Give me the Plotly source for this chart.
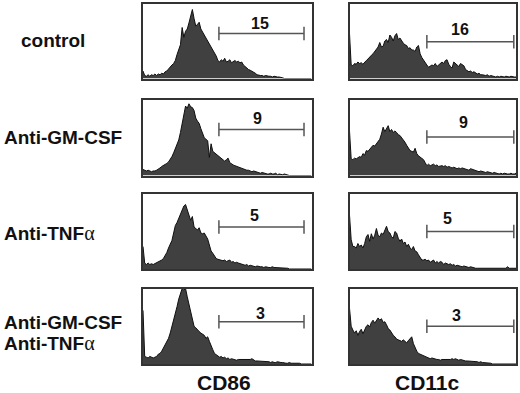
import plotly.graph_objects as go

# ---------------- data ----------------
conditions = ["control", "Anti-GM-CSF", "Anti-TNFα", "Anti-GM-CSF\nAnti-TNFα"]
markers = ["CD86", "CD11c"]

cd86_control = [10,4,3,5,3,5,4,6,4,6, 5,7,6,9,10,13,15,18,20,24,
                32,40,45,68,55,63,66,74,84,92, 80,70,72,75,66,62,60,55,50,46,
                42,38,34,30,24,22,25,23,27,22, 23,25,21,23,24,22,23,21,22,18,
                16,13,12,11,10,9,7,5,4,4, 4,3,4,3,3,3,2,3,2,2,
                2,2,1,0,0,0,0,0,0,0, 0,0,0,0,0,0,0,0,0,0]
cd86_anti_gmcsf = [8,7,6,7,6,5,6,6,7,8, 10,12,13,15,16,18,21,25,30,36,
                   41,47,57,68,82,92,89,95,91,90, 86,76,72,69,62,55,50,48,46,24,
                   42,32,30,28,26,25,23,21,19,21, 23,17,15,14,13,12,11,10,9,8,
                   8,7,7,6,5,6,5,4,4,3, 4,3,3,2,2,3,2,2,3,1,
                   2,1,1,2,1,1,0,0,0,0, 0,0,0,0,0,0,0,0,0,0]
cd86_anti_tnfa = [30,8,6,8,6,7,6,7,8,9, 11,12,14,18,22,28,33,38,48,58,
                  62,68,74,79,84,86,80,72,65,70, 56,54,52,55,48,47,48,44,40,32,
                  24,21,18,14,13,12,12,11,12,10, 11,12,9,10,8,9,8,7,7,6,
                  5,6,4,5,4,4,3,4,3,3, 3,2,3,2,2,2,3,2,2,2,
                  2,2,2,1,1,1,0,0,0,0, 0,0,0,0,0,0,0,0,0,0]
cd86_both = [71,10,9,8,10,9,8,9,10,13, 14,17,21,25,28,34,41,49,58,66,
             76,86,93,100,98,100,89,80,70,58, 50,48,45,43,41,40,38,34,36,30,
             23,19,14,12,10,9,10,8,9,7, 8,6,7,6,6,5,6,6,5,6,
             5,5,5,6,7,5,4,4,4,3, 4,3,3,3,3,2,3,2,2,3,
             2,2,2,1,1,1,2,1,1,1, 1,1,1,0,0,0,0,0,0,0]

cd11c_control = [60,18,17,20,19,22,20,21,19,22, 24,26,29,31,33,36,38,42,48,42,
                 43,50,52,48,58,55,50,57,60,52, 54,50,47,45,44,40,41,38,38,36,
                 42,44,33,28,24,20,18,15,16,18, 17,20,16,18,19,22,20,24,25,19,
                 16,14,22,20,18,16,20,18,17,12, 10,9,10,8,9,7,6,7,5,5,
                 4,4,5,3,4,3,3,2,3,2, 3,2,2,3,2,2,3,2,2,2]
cd11c_anti_gmcsf = [59,22,21,23,22,24,25,24,29,27, 33,32,35,37,40,39,42,44,48,55,
                    64,58,62,66,58,61,57,59,57,54, 53,50,48,44,40,37,33,32,31,36,
                    29,26,24,22,21,17,13,15,13,14, 15,13,14,12,13,13,12,13,11,12,
                    11,10,11,10,9,10,9,10,9,8, 8,7,9,8,7,7,6,5,6,5,
                    5,4,5,4,4,3,4,3,3,2, 3,2,3,2,2,2,3,2,2,3]
cd11c_anti_tnfa = [72,39,30,30,28,34,30,32,28,34, 43,46,37,47,40,45,54,45,43,48,
                   46,52,57,50,48,43,41,50,48,41, 37,40,34,36,30,33,28,26,30,24,
                   23,19,15,12,12,13,11,12,9,11, 12,8,10,8,10,9,6,8,7,6,
                   7,5,6,4,5,4,4,3,4,3, 3,2,3,2,2,1,1,1,1,1,
                   1,1,1,1,1,1,1,1,1,1, 1,1,1,1,3,1,1,1,1,1]
cd11c_both = [74,50,45,41,44,38,43,46,40,45, 50,52,49,55,58,54,57,61,58,60,
              55,56,52,47,45,41,38,36,33,32, 31,30,32,30,28,31,33,36,27,21,
              17,14,13,12,10,9,8,8,7,8, 7,7,6,6,5,6,6,5,6,5,
              6,7,6,7,6,5,6,5,5,4, 4,4,3,4,3,3,3,2,3,2,
              2,2,1,1,1,0,0,0,0,0, 0,0,0,0,0,0,0,0,0,0]

cd86_pct = [15, 9, 5, 3]
cd11c_pct = [16, 9, 5, 3]
cd86_gate = [44.6, 94.6]      # marker gate in channel units
cd11c_gate = [46.0, 97.7]

histograms = [[cd86_control, cd11c_control],
              [cd86_anti_gmcsf, cd11c_anti_gmcsf],
              [cd86_anti_tnfa, cd11c_anti_tnfa],
              [cd86_both, cd11c_both]]
percents = [cd86_pct, cd11c_pct]
gates = [cd86_gate, cd11c_gate]

# ---------------- layout (pixels) ----------------
W, H = 520, 393
col_px = [(143, 311.5), (349.5, 516)]
row_px = [(3.5, 78.5), (100, 175.5), (194, 269), (288.5, 364)]
gate_y = [[60, 49], [61, 51], [56, 50], [56, 50]]
label_pos = [[(68.6, 73), (65.8, 66)], [(67.2, 75), (67.6, 70)],
             [(65.6, 72), (58.2, 68)], [(69.2, 67), (63.5, 64)]]
cap = 9
row_label_px = [[(19, 40)], [(2, 138)], [(2, 233)], [(2, 322), (2, 343)]]
col_label_px = [(224, 382), (427, 382)]

FONT = "Liberation Sans, Arial, sans-serif"
fig = go.Figure()
layout = dict(width=W, height=H, margin=dict(l=0, r=0, t=0, b=0),
              paper_bgcolor="white", plot_bgcolor="white", showlegend=False)
annotations = []

for r in range(4):
    for c in range(2):
        k = r * 2 + c + 1
        xa = "x" if k == 1 else f"x{k}"
        ya = "y" if k == 1 else f"y{k}"
        x0, x1 = col_px[c]
        y0, y1 = row_px[r]
        axcommon = dict(showline=True, mirror=True, linecolor="#333333", linewidth=1.5,
                        showgrid=False, zeroline=False, showticklabels=False, ticks="",
                        fixedrange=True)
        layout["xaxis" if k == 1 else f"xaxis{k}"] = dict(
            domain=[x0 / W, x1 / W], range=[0, 99], anchor=ya, **axcommon)
        layout["yaxis" if k == 1 else f"yaxis{k}"] = dict(
            domain=[1 - y1 / H, 1 - y0 / H], range=[0, 100], anchor=xa, **axcommon)
        vals = histograms[r][c]
        fig.add_trace(go.Scatter(x=list(range(len(vals))), y=vals, mode="lines",
                                 fill="tozeroy", fillcolor="#404040",
                                 line=dict(color="#101010", width=1),
                                 xaxis=xa, yaxis=ya, hoverinfo="skip"))
        lo, hi = gates[c]
        gy = gate_y[r][c]
        fig.add_trace(go.Scatter(
            x=[lo, hi, None, lo, lo, None, hi, hi],
            y=[gy, gy, None, gy - cap, gy + cap, None, gy - cap, gy + cap],
            mode="lines", line=dict(color="#555555", width=1.5),
            xaxis=xa, yaxis=ya, hoverinfo="skip"))
        lx, ly = label_pos[r][c]
        annotations.append(dict(x=lx, y=ly, xref=xa, yref=ya, showarrow=False,
                                text=f"<b>{percents[c][r]}</b>",
                                font=dict(family=FONT, size=16, color="#111111"),
                                xanchor="center", yanchor="middle"))

def fmt(line):
    if line.endswith("α"):
        return ("<b>" + line[:-1] + "</b>"
                "<span style='font-family:Liberation Serif, serif;font-size:20px'>α</span>")
    return "<b>" + line + "</b>"

for r, label in enumerate(conditions):
    for line, (px, py) in zip(label.split("\n"), row_label_px[r]):
        annotations.append(dict(x=px / W, y=1 - py / H, xref="paper", yref="paper",
                                showarrow=False, text=fmt(line),
                                font=dict(family=FONT, size=19, color="#111111"),
                                xanchor="left", yanchor="middle"))

for c, m in enumerate(markers):
    px, py = col_label_px[c]
    annotations.append(dict(x=px / W, y=1 - py / H, xref="paper", yref="paper",
                            showarrow=False, text=f"<b>{m}</b>",
                            font=dict(family=FONT, size=21, color="#111111"),
                            xanchor="center", yanchor="middle"))

layout["annotations"] = annotations
fig.update_layout(**layout)
fig.write_html("out.html", config={"displayModeBar": False},
               post_script="document.body.style.margin='0';document.body.style.padding='0';")
